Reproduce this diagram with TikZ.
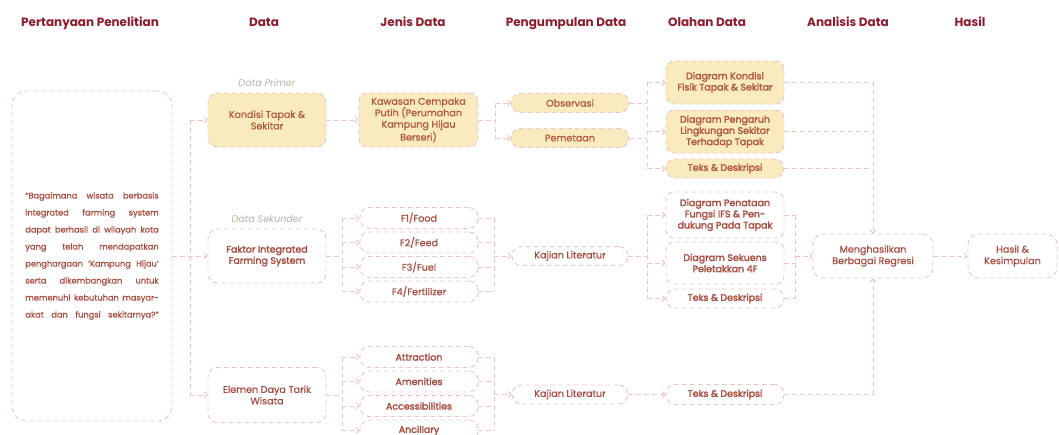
\documentclass[tikz,border=0pt]{standalone}
\usepackage{fontspec}
\setmainfont{Poppins}
\newfontfamily\pmed{Poppins}[FakeBold=0.6]
\newfontfamily\psemi{Poppins}[FakeBold=2.2]
\usetikzlibrary{arrows.meta,calc}
\definecolor{hdr}{HTML}{8E1A2C}
\definecolor{txt}{HTML}{A84A3E}
\definecolor{txto}{HTML}{B0583C}
\definecolor{grayc}{HTML}{B8ADA5}
\definecolor{dashc}{HTML}{EDC5C5}
\definecolor{fillc}{HTML}{FAEABF}
\tikzset{
  sz/.style 2 args={minimum width={(#1)*0.75pt}, minimum height={(#2)*0.75pt}},
  box/.style={draw=dashc, dash pattern=on 3.5pt off 2.5pt, line width=0.7pt,
    rounded corners=6pt, align=center, text=txt, inner sep=1pt,
    font=\fontsize{7.2}{8.6}\pmed},
  fbox/.style={box, fill=fillc, text=txto},
  pill/.style={box, rounded corners=7pt},
  conn/.style={draw=dashc, dash pattern=on 3.5pt off 2.5pt, line width=0.7pt},
  arr/.style={conn, -{Straight Barb[length=2pt,width=4.5pt]}},
  hd/.style={text=hdr, anchor=base, font=\fontsize{9}{11}\selectfont\bfseries},
  lbl/.style={text=grayc, font=\fontsize{7.2}{8}\selectfont\itshape},
  bt/.style={font=\fontsize{7.1}{8.4}\psemi},
}
\begin{document}
\begin{tikzpicture}[x=0.75pt,y=-0.75pt]
\useasboundingbox (0,0) rectangle (1059,435);
% headers
\node[hd] (h1) at (90,26.5) {Pertanyaan Penelitian};
\node[hd] (h2) at (264,26.5) {Data};
\node[hd] (h3) at (413,26.5) {Jenis Data};
\node[hd] (h4) at (566,26.5) {Pengumpulan Data};
\node[hd] (h5) at (707,26.5) {Olahan Data};
\node[hd] (h6) at (848,26.5) {Analisis Data};
\node[hd] (h7) at (970,26.5) {Hasil};
% question box
\node[box, sz={160}{330}, rounded corners=11pt, font=\fontsize{6.2}{12.75}\pmed] (q) at (92,256) {%
\makebox[100pt][s]{“Bagaimana wisata berbasis}\\
\makebox[100pt][s]{integrated farming system}\\
\makebox[100pt][s]{dapat berhasil di wilayah kota}\\
\makebox[100pt][s]{yang telah mendapatkan}\\
\makebox[100pt][s]{penghargaan ‘Kampung Hijau’}\\
\makebox[100pt][s]{serta dikembangkan untuk}\\
\makebox[100pt][s]{memenuhi kebutuhan masyar-}\\
\makebox[100pt][s]{akat dan fungsi sekitarnya?”}};
% Data column
\node[lbl] (lp) at (267,83) {Data Primer};
\node[lbl] (ls) at (267,219) {Data Sekunder};
\node[fbox, sz={118}{54}, rounded corners=7pt] (kt) at (267,120) {Kondisi Tapak \&\\Sekitar};
\node[box, bt, sz={118}{54}, rounded corners=7pt] (fi) at (267,256) {Faktor Integrated\\Farming System};
\node[box, sz={118}{55}, rounded corners=7pt] (el) at (267,395) {Elemen Daya Tarik\\Wisata};
% Jenis Data column
\node[fbox, sz={119}{54}] (kc) at (418.5,120) {Kawasan Cempaka\\Putih (Perumahan\\Kampung Hijau\\Berseri)};
\node[pill, sz={118}{21}] (f1) at (419,218) {F1/Food};
\node[pill, sz={118}{21}] (f2) at (419,242.5) {F2/Feed};
\node[pill, sz={118}{21}] (f3) at (419,267) {F3/Fuel};
\node[pill, sz={118}{21}] (f4) at (419,291.5) {F4/Fertilizer};
\node[pill, bt, sz={118}{21}] (a1) at (419,357) {Attraction};
\node[pill, bt, sz={118}{21}] (a2) at (419,381.5) {Amenities};
\node[pill, bt, sz={118}{21}] (a3) at (419,406) {Accessibilities};
\node[pill, bt, sz={118}{21}] (a4) at (419,430.5) {Ancillary};
% Pengumpulan Data column
\node[fbox, sz={118}{19}, rounded corners=7pt] (ob) at (570,103) {Observasi};
\node[fbox, sz={118}{19}, rounded corners=7pt] (pe) at (570,138) {Pemetaan};
\node[pill, sz={116}{19}] (kl1) at (570,256) {Kajian Literatur};
\node[pill, sz={116}{19}] (kl2) at (570,394.5) {Kajian Literatur};
% Olahan Data column
\node[fbox, bt, sz={118}{43}] (o1) at (725,82.5) {Diagram Kondisi\\Fisik Tapak \& Sekitar};
\node[fbox, bt, sz={118}{43}] (o2) at (725,131.5) {Diagram Pengaruh\\Lingkungan Sekitar\\Terhadap Tapak};
\node[fbox, bt, sz={118}{19}, rounded corners=7pt] (o3) at (725,168.5) {Teks \& Deskripsi};
\node[box, bt, sz={118}{46}] (o4) at (725,215) {Diagram Penataan\\Fungsi IFS \& Pen-\\dukung Pada Tapak};
\node[box, bt, sz={118}{42}] (o5) at (725,263) {Diagram Sekuens\\Peletakkan 4F};
\node[pill, bt, sz={118}{19}] (o6) at (725,298.5) {Teks \& Deskripsi};
\node[pill, bt, sz={118}{20}] (o7) at (725,394.5) {Teks \& Deskripsi};
% Analisis and Hasil
\node[box, sz={120}{44}, rounded corners=8pt] (an) at (873,256) {Menghasilkan\\Berbagai Regresi};
\node[box, sz={89}{44}, rounded corners=8pt] (ha) at (1012.5,256) {Hasil \&\\Kesimpulan};
% trunk x positions
\coordinate (t1) at (190,0);
\coordinate (t2) at (495,0);
\coordinate (t3) at (647,0);
\coordinate (t4) at (342,0);
\coordinate (t5) at (494,0);
\coordinate (t6) at (795,0);
% question -> data
\draw[conn] (kt -| t1) -- (el -| t1);
\draw[arr] (kt -| t1) -- (kt);
\draw[arr] (q) -- (fi);
\draw[arr] (el -| t1) -- (el);
% primary chain
\draw[arr] (kt) -- (kc);
\draw[conn] (kc) -- (kc -| t2);
\draw[conn] (ob -| t2) -- (pe -| t2);
\draw[arr] (ob -| t2) -- (ob);
\draw[arr] (pe -| t2) -- (pe);
\draw[conn] (ob) -- (ob -| t3);
\draw[conn] (pe) -- (pe -| t3);
\draw[conn] (o1 -| t3) -- (o3 -| t3);
\draw[arr] (o1 -| t3) -- (o1);
\draw[arr] (o2 -| t3) -- (o2);
\draw[arr] (o3 -| t3) -- (o3);
\draw[arr] (o1) -| (an);
\draw[conn] (o2) -- (o2 -| an);
\draw[conn] (o3) -- (o3 -| an);
% IFS chain
\draw[conn] (fi) -- (fi -| t4);
\draw[conn] (f1 -| t4) -- (f4 -| t4);
\foreach \n in {f1,f2,f3,f4}{
  \draw[arr] (\n -| t4) -- (\n);
  \draw[conn] (\n) -- (\n -| t5);
}
\draw[conn] (f1 -| t5) -- (f4 -| t5);
\draw[arr] (kl1 -| t5) -- (kl1);
\draw[conn] (kl1) -- (kl1 -| t3);
\draw[conn] (o4 -| t3) -- (o6 -| t3);
\foreach \n in {o4,o5,o6}{
  \draw[arr] (\n -| t3) -- (\n);
  \draw[conn] (\n) -- (\n -| t6);
}
\draw[conn] (o4 -| t6) -- (o6 -| t6);
\draw[arr] (an -| t6) -- (an);
% tourism chain
\draw[conn] (el) -- (el -| t4);
\draw[conn] (a1 -| t4) -- (a4 -| t4);
\foreach \n in {a1,a2,a3,a4}{
  \draw[arr] (\n -| t4) -- (\n);
  \draw[conn] (\n) -- (\n -| t5);
}
\draw[conn] (a1 -| t5) -- (a4 -| t5);
\draw[arr] (kl2 -| t5) -- (kl2);
\draw[arr] (kl2) -- (o7);
\draw[arr] (o7) -| (an);
% result
\draw[arr] (an) -- (ha);
\end{tikzpicture}
\end{document}
